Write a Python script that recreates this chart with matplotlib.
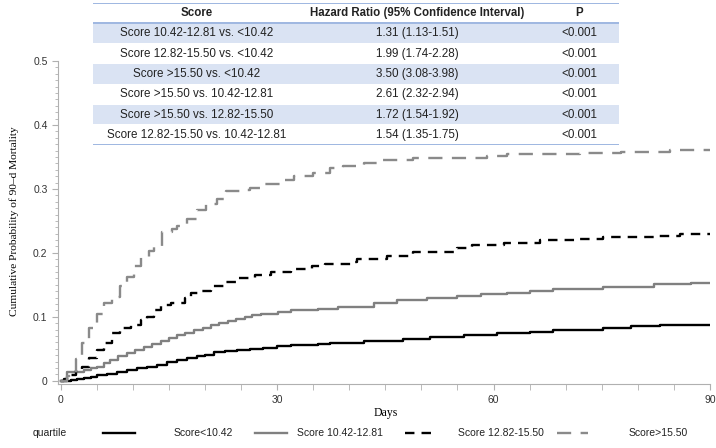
import matplotlib
matplotlib.use("Agg")
import matplotlib.pyplot as plt
from matplotlib.lines import Line2D

# ---- data ----
# cumulative probability of 90-d mortality (step curves, days vs prob)
days_q1 = [0, 1.4, 2.3, 3.2, 4.2, 5.1, 6.4, 7.8, 9.2, 10.6, 12.0, 13.4, 14.8, 16.2,
           17.5, 18.9, 20.0, 21.2, 22.8, 24.5, 26.3, 28.1, 30.0, 32.0, 35.7, 37.4,
           42.0, 47.5, 51.2, 55.9, 60.5, 65.1, 68.3, 75.2, 79.0, 83.1, 90]
prob_q1 = [0, 0.002, 0.003, 0.004, 0.006, 0.009, 0.011, 0.014, 0.017, 0.020, 0.022,
           0.025, 0.029, 0.033, 0.035, 0.038, 0.041, 0.045, 0.046, 0.048, 0.050,
           0.052, 0.054, 0.056, 0.057, 0.059, 0.062, 0.066, 0.069, 0.072, 0.075,
           0.077, 0.079, 0.083, 0.086, 0.087, 0.087]

days_q2 = [0, 0.9, 3.2, 4.2, 5.1, 6.0, 6.9, 8.0, 9.2, 10.3, 11.5, 12.7, 13.9, 15.0,
           16.2, 17.3, 18.5, 19.7, 20.9, 22.0, 23.2, 24.3, 25.5, 26.6, 27.8, 30.1,
           32.0, 35.7, 38.5, 40.6, 43.4, 46.6, 50.8, 54.9, 58.2, 61.9, 65.1, 68.3,
           75.2, 82.2, 87.3, 90]
prob_q2 = [0, 0.013, 0.017, 0.020, 0.022, 0.028, 0.033, 0.038, 0.043, 0.048, 0.053,
           0.058, 0.063, 0.067, 0.071, 0.075, 0.079, 0.083, 0.087, 0.091, 0.094,
           0.097, 0.100, 0.103, 0.105, 0.108, 0.111, 0.113, 0.115, 0.116, 0.121,
           0.127, 0.129, 0.133, 0.136, 0.138, 0.141, 0.143, 0.147, 0.151, 0.153,
           0.153]

days_q3 = [0, 0.5, 0.9, 2.1, 3.0, 3.9, 5.1, 6.0, 7.2, 8.3, 9.7, 11.1, 12.0, 12.9,
           13.9, 15.3, 17.2, 18.1, 19.3, 20.9, 22.8, 24.6, 26.9, 29.2, 32.0, 34.8,
           36.6, 40.2, 41.1, 45.3, 48.9, 54.9, 57.0, 61.4, 66.5, 71.6, 75.2, 82.2,
           85.9, 90]
prob_q3 = [0, 0.003, 0.009, 0.017, 0.022, 0.036, 0.048, 0.059, 0.074, 0.082, 0.087,
           0.095, 0.100, 0.110, 0.118, 0.122, 0.129, 0.137, 0.141, 0.149, 0.154,
           0.160, 0.165, 0.170, 0.175, 0.179, 0.183, 0.186, 0.191, 0.195, 0.202,
           0.207, 0.212, 0.215, 0.220, 0.222, 0.225, 0.226, 0.229, 0.230]

days_q4 = [0, 0.9, 2.1, 3.0, 3.9, 5.1, 6.0, 7.2, 8.3, 9.2, 10.2, 11.1, 12.2, 12.9,
           14.1, 15.5, 16.2, 17.5, 18.9, 20.1, 21.7, 22.9, 24.9, 26.3, 28.1, 30.5,
           32.3, 35.0, 37.4, 39.2, 42.0, 44.3, 48.9, 53.6, 59.1, 61.9, 65.1, 72.0,
           77.6, 84.5, 90]
prob_q4 = [0, 0.007, 0.034, 0.059, 0.082, 0.105, 0.121, 0.131, 0.149, 0.163, 0.180,
           0.193, 0.203, 0.211, 0.232, 0.238, 0.242, 0.253, 0.267, 0.276, 0.284,
           0.296, 0.298, 0.302, 0.307, 0.314, 0.320, 0.325, 0.333, 0.336, 0.340,
           0.345, 0.348, 0.349, 0.352, 0.354, 0.355, 0.356, 0.358, 0.361, 0.362]

legend_labels = ["Score<10.42", "Score 10.42-12.81", "Score 12.82-15.50", "Score>15.50"]

# hazard ratio table
tbl_header = ["Score", "Hazard Ratio (95% Confidence Interval)", "P"]
tbl_score = ["Score 10.42-12.81 vs. <10.42", "Score 12.82-15.50 vs. <10.42",
             "Score >15.50 vs. <10.42", "Score >15.50 vs. 10.42-12.81",
             "Score >15.50 vs. 12.82-15.50", "Score 12.82-15.50 vs. 10.42-12.81"]
tbl_hr = ["1.31 (1.13-1.51)", "1.99 (1.74-2.28)", "3.50 (3.08-3.98)",
          "2.61 (2.32-2.94)", "1.72 (1.54-1.92)", "1.54 (1.35-1.75)"]
tbl_p = ["<0.001"] * 6

W, H = 716, 448
fig = plt.figure(figsize=(W / 100, H / 100), dpi=100)
sans = "Liberation Sans"
serif = "Liberation Serif"

def px(x0, y0, x1, y1):
    # pixel box -> figure fraction rect
    return [x0 / W, 1 - y1 / H, (x1 - x0) / W, (y1 - y0) / H]

ax = fig.add_axes(px(58, 61, 710, 384))
styles = [
    dict(color="black", lw=1.7, ls="-"),
    dict(color="#808080", lw=1.7, ls="-"),
    dict(color="black", lw=1.7, ls=(0, (4, 3))),
    dict(color="#8a8a8a", lw=1.7, ls=(0, (6, 4))),
]
series = [(days_q1, prob_q1), (days_q2, prob_q2), (days_q3, prob_q3), (days_q4, prob_q4)]
for (d, p), st in zip(series, styles):
    ax.step(d, p, where="post", **st)

ax.set_xlim(-0.35, 90)
ax.set_ylim(-0.005, 0.5)
ax.set_xticks([0, 30, 60, 90])
ax.set_xticks(range(0, 91, 5), minor=True)
ax.set_yticks([0, 0.1, 0.2, 0.3, 0.4, 0.5])
ax.set_yticklabels(["0", "0.1", "0.2", "0.3", "0.4", "0.5"])
ax.set_yticks([i / 100 for i in range(51)], minor=True)
for s in ["top", "right"]:
    ax.spines[s].set_visible(False)
for s in ["left", "bottom"]:
    ax.spines[s].set_color("#b0b0b0")
    ax.spines[s].set_linewidth(0.8)
ax.tick_params(axis="both", which="major", length=4, color="#b0b0b0",
               labelsize=7.5, labelcolor="#333333", labelfontfamily=sans)
ax.tick_params(axis="x", which="major", pad=4)
ax.tick_params(axis="x", which="minor", length=4, color="#b0b0b0")
ax.tick_params(axis="y", which="minor", length=2, color="#b0b0b0")
ax.set_xlabel("Days", fontfamily=serif, fontsize=8.5, va="center")
ax.xaxis.set_label_coords(0.503, -0.09)
ax.set_ylabel("Cumulative Probability of 90\u2013d Mortality", fontfamily=serif,
              fontsize=8.2, va="center")
ax.yaxis.set_label_coords(-0.068, 0.505)

# table drawn on top
tax = fig.add_axes(px(93, 3, 619, 145))
tax.set_xlim(0, 1)
tax.set_ylim(7, 0)
tax.axis("off")
col_x = [0.197, 0.617, 0.924]
for i in range(1, 7):
    if i % 2 == 1:
        tax.axhspan(i + 0.03, i + 0.97, color="#dae3f3", lw=0)
    else:
        tax.axhspan(i, i + 1, color="white", lw=0)
for y in [0, 1, 7]:
    tax.axhline(y, color="#8eaadb", lw=1.2)
for j, h in enumerate(tbl_header):
    tax.text(col_x[j], 0.5, h, ha="center", va="center", fontsize=8.3,
             fontweight="bold", fontfamily=sans, color="#222222")
for i in range(6):
    for j, v in enumerate([tbl_score[i], tbl_hr[i], tbl_p[i]]):
        tax.text(col_x[j], i + 1.5, v, ha="center", va="center", fontsize=8.4,
                 fontfamily=sans, color="#222222")
tax.patch.set_visible(False)

# legend strip at the bottom
lax = fig.add_axes(px(0, 420, W, 445))
lax.set_xlim(0, W)
lax.set_ylim(1, 0)
lax.axis("off")
lax.text(33, 0.5, "quartile", ha="left", va="center", fontsize=7.5, fontfamily=sans,
         color="#222222")
seg_x = [(103, 135), (255, 287), (405, 437), (557, 588)]
lab_x = [203, 340, 501, 658]
for (a, b), lx, st, lab in zip(seg_x, lab_x, styles, legend_labels):
    lax.add_line(Line2D([a, b], [0.5, 0.5], **st))
    lax.text(lx, 0.5, lab, ha="center", va="center", fontsize=7.5, fontfamily=sans,
             color="#222222")

fig.savefig("out.png", dpi=100)
